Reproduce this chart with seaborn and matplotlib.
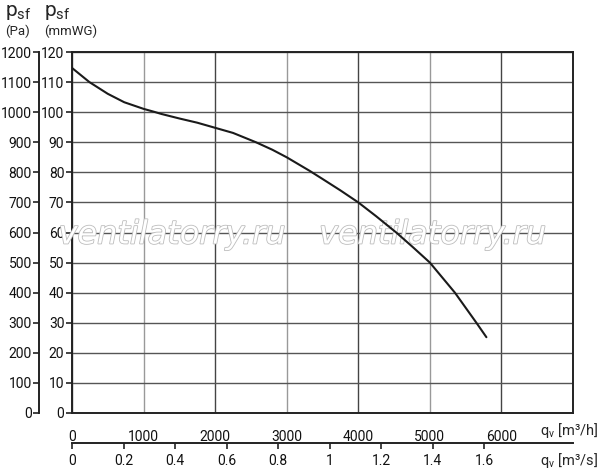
import pandas as pd
import matplotlib
matplotlib.use("Agg")
import matplotlib.pyplot as plt
import matplotlib.patheffects as pe
import seaborn as sns

# fan curve: air flow (m3/h) vs static pressure (Pa)
flow_m3h = [0, 243, 500, 730, 1000, 1150, 1250, 1500, 1750, 2000, 2250,
            2570, 2800, 3000, 3320, 3500, 3750, 4000, 4250, 4530, 4750,
            5000, 5350, 5650, 5790]
psf_pa = [1147, 1100, 1061, 1033, 1011, 1001, 994, 979, 965, 948, 931,
          900, 875, 850, 805, 778, 740, 700, 654, 600, 554,
          500, 400, 300, 252]

pa_ticks = list(range(0, 1201, 100))
mmwg_labels = [str(v // 10) for v in pa_ticks]
m3h_ticks = [0, 1000, 2000, 3000, 4000, 5000, 6000]
m3s_ticks = [0, 0.2, 0.4, 0.6, 0.8, 1, 1.2, 1.4, 1.6]
m3s_labels = ["0", "0.2", "0.4", "0.6", "0.8", "1", "1.2", "1.4", "1.6"]

df = pd.DataFrame({"flow": flow_m3h, "psf": psf_pa})

sns.set_style("white")
plt.rcParams["font.family"] = ["Roboto", "DejaVu Sans"]
plt.rcParams["font.size"] = 10
plt.rcParams["mathtext.fontset"] = "custom"
plt.rcParams["mathtext.rm"] = "Roboto"

fig = plt.figure(figsize=(6, 4.71), dpi=100)
ax = fig.add_axes([72 / 600, 58 / 471, 501 / 600, 361 / 471])

sns.lineplot(data=df, x="flow", y="psf", ax=ax, color="#1a1a1a", lw=1.5, zorder=10)

ax.set_xlim(0, 7000)
ax.set_ylim(0, 1200)
ax.set_xlabel("")
ax.set_ylabel("")

# inner left axis in mmWG
ax.set_yticks(pa_ticks)
ax.set_yticklabels(mmwg_labels)
ax.set_xticks(m3h_ticks)
ax.set_xticklabels([str(v) for v in m3h_ticks])
ax.tick_params(axis="both", direction="out", length=4, width=1.2, color="#222222",
               labelsize=10, labelcolor="#111111", pad=1.5)
ax.tick_params(axis="x", pad=8)

ax.grid(True, color="#555555", lw=1)
for i, gl in enumerate(ax.xaxis.get_gridlines()):
    gl.set_color("#999999" if i % 2 == 1 else "#444444")
for s in ax.spines.values():
    s.set_visible(True)
    s.set_color("#222222")
    s.set_linewidth(1.4)

# outer axis in Pa
par = ax.twinx()
par.set_ylim(0, 1200)
par.spines["right"].set_visible(False)
par.spines["top"].set_visible(False)
par.spines["bottom"].set_visible(False)
par.spines["left"].set_visible(True)
par.spines["left"].set_position(("outward", 24))
par.spines["left"].set_color("#222222")
par.spines["left"].set_linewidth(1.4)
par.yaxis.set_ticks_position("left")
par.set_yticks(pa_ticks)
par.set_yticklabels([str(v) for v in pa_ticks])
par.tick_params(axis="y", direction="out", length=4, width=1.2, color="#222222",
                labelsize=10, labelcolor="#111111", pad=1)
par.grid(False)

# second flow axis in m3/s
sec = ax.secondary_xaxis(-30 / 361, functions=(lambda x: x / 3600, lambda x: x * 3600))
sec.set_xticks(m3s_ticks)
sec.set_xticklabels(m3s_labels)
sec.spines["bottom"].set_color("#222222")
sec.spines["bottom"].set_linewidth(1.4)
sec.tick_params(axis="x", direction="out", length=4, width=1.2, color="#222222",
                labelsize=10, labelcolor="#111111", pad=4)

# axis titles
fig.text(5 / 600, 1 - 13 / 471, r"$\mathrm{p_{sf}}$", fontsize=15, va="center", ha="left")
fig.text(5 / 600, 1 - 31 / 471, "(Pa)", fontsize=9.5, va="center", ha="left")
fig.text(44 / 600, 1 - 13 / 471, r"$\mathrm{p_{sf}}$", fontsize=15, va="center", ha="left")
fig.text(44 / 600, 1 - 31 / 471, "(mmWG)", fontsize=9.5, va="center", ha="left")
fig.text(598 / 600, 1 - 430 / 471, r"$\mathrm{q_v}$ [m³/h]", fontsize=10.5, va="center", ha="right")
fig.text(598 / 600, 1 - 461 / 471, r"$\mathrm{q_v}$ [m³/s]", fontsize=10.5, va="center", ha="right")

# watermark
for xw in (0.2, 0.72):
    ax.text(xw, 0.493, "ventilatorry.ru", transform=ax.transAxes, fontsize=23,
            family="DejaVu Sans", style="italic", color="white", ha="center",
            va="center", zorder=5,
            path_effects=[pe.withStroke(linewidth=1.2, foreground="#bdbdbd")])

fig.savefig("out.png", dpi=100)
